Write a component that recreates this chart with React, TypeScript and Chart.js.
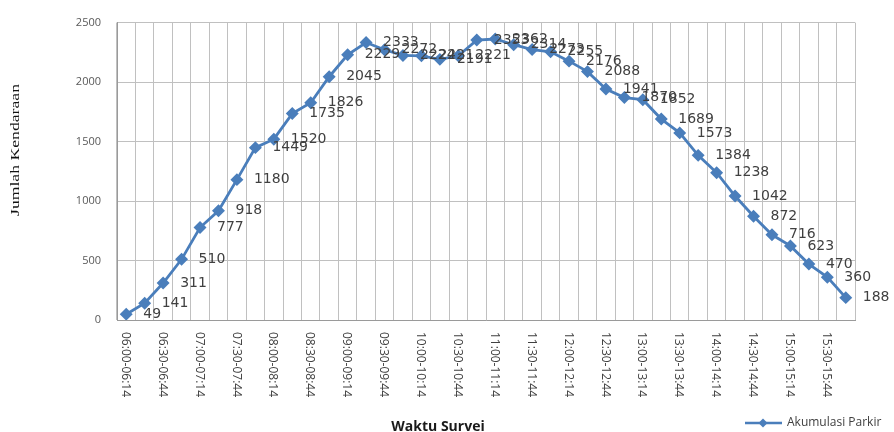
import React, { useEffect, useRef } from "react";
import { Chart, registerables } from "chart.js";

Chart.register(...registerables);

const categories: string[] = [
  "06:00-06:14", "06:15-06:29", "06:30-06:44", "06:45-06:59",
  "07:00-07:14", "07:15-07:29", "07:30-07:44", "07:45-07:59",
  "08:00-08:14", "08:15-08:29", "08:30-08:44", "08:45-08:59",
  "09:00-09:14", "09:15-09:29", "09:30-09:44", "09:45-09:59",
  "10:00-10:14", "10:15-10:29", "10:30-10:44", "10:45-10:59",
  "11:00-11:14", "11:15-11:29", "11:30-11:44", "11:45-11:59",
  "12:00-12:14", "12:15-12:29", "12:30-12:44", "12:45-12:59",
  "13:00-13:14", "13:15-13:29", "13:30-13:44", "13:45-13:59",
  "14:00-14:14", "14:15-14:29", "14:30-14:44", "14:45-14:59",
  "15:00-15:14", "15:15-15:29", "15:30-15:44", "15:45-15:59",
];

const akumulasiParkir: number[] = [
  49, 141, 311, 510, 777, 918, 1180, 1449, 1520, 1735,
  1826, 2045, 2229, 2333, 2272, 2224, 2221, 2191, 2221, 2353,
  2362, 2314, 2273, 2255, 2176, 2088, 1941, 1870, 1852, 1689,
  1573, 1384, 1238, 1042, 872, 716, 623, 470, 360, 188,
];

const yTicks: number[] = [0, 500, 1000, 1500, 2000, 2500];

const seriesName = "Akumulasi Parkir";
const xTitle = "Waktu Survei";
const yTitle = "Jumlah Kendaraan";

const LINE_COLOR = "#4A7EBB";

const overlayPlugin = {
  id: "overlay",
  afterDatasetsDraw(chart: any) {
    const ctx: CanvasRenderingContext2D = chart.ctx;
    const meta = chart.getDatasetMeta(0);
    const xScale = chart.scales.x;
    const area = chart.chartArea;

    // data labels
    ctx.save();
    ctx.font = "14px 'DejaVu Sans'";
    ctx.fillStyle = "#404040";
    ctx.textAlign = "left";
    ctx.textBaseline = "middle";
    meta.data.forEach((pt: any, i: number) => {
      ctx.fillText(String(akumulasiParkir[i]), pt.x + 17, pt.y);
    });
    ctx.restore();

    // x tick labels (rotated clockwise, every other category)
    ctx.save();
    ctx.font = "12px 'Open Sans'";
    ctx.fillStyle = "#404040";
    ctx.textAlign = "left";
    ctx.textBaseline = "middle";
    categories.forEach((c, i) => {
      if (i % 2 !== 0) return;
      const x = xScale.getPixelForValue(i);
      ctx.save();
      ctx.translate(x - 1, area.bottom + 12);
      ctx.rotate(Math.PI / 2);
      ctx.fillText(c, 0, 0);
      ctx.restore();
    });
    ctx.restore();

    // x title
    ctx.save();
    ctx.font = "bold 14px 'Open Sans'";
    ctx.fillStyle = "#1a1a1a";
    ctx.textAlign = "center";
    ctx.textBaseline = "alphabetic";
    ctx.fillText(xTitle, 438, 431);
    ctx.restore();

    // y title
    ctx.save();
    ctx.font = "12px 'Liberation Serif'";
    ctx.fillStyle = "#111111";
    ctx.textAlign = "center";
    ctx.textBaseline = "middle";
    const w = ctx.measureText(yTitle).width;
    ctx.translate(16, 150);
    ctx.rotate(-Math.PI / 2);
    ctx.scale(132 / w, 1);
    ctx.fillText(yTitle, 0, 0);
    ctx.restore();

    // legend
    ctx.save();
    const ly = 423;
    ctx.strokeStyle = LINE_COLOR;
    ctx.lineWidth = 2.5;
    ctx.beginPath();
    ctx.moveTo(745, ly);
    ctx.lineTo(782, ly);
    ctx.stroke();
    ctx.fillStyle = LINE_COLOR;
    ctx.beginPath();
    ctx.moveTo(763, ly - 4.5);
    ctx.lineTo(767.5, ly);
    ctx.lineTo(763, ly + 4.5);
    ctx.lineTo(758.5, ly);
    ctx.closePath();
    ctx.fill();
    ctx.font = "12px 'Open Sans'";
    ctx.fillStyle = "#404040";
    ctx.textAlign = "left";
    ctx.textBaseline = "middle";
    ctx.fillText(seriesName, 787, ly);
    ctx.restore();
  },
};

export default function App() {
  const ref = useRef<HTMLCanvasElement | null>(null);

  useEffect(() => {
    if (!ref.current) return;
    const chart = new Chart(ref.current, {
      type: "line",
      data: {
        labels: categories,
        datasets: [
          {
            label: seriesName,
            data: akumulasiParkir,
            borderColor: LINE_COLOR,
            backgroundColor: LINE_COLOR,
            borderWidth: 2.8,
            pointStyle: "rectRot",
            pointRadius: 4.5,
            pointBackgroundColor: LINE_COLOR,
            pointBorderColor: LINE_COLOR,
            tension: 0,
          },
        ],
      },
      options: {
        animation: false,
        responsive: false,
        maintainAspectRatio: false,
        layout: { padding: { top: 15, right: 39, left: 0, bottom: 0 } },
        plugins: {
          legend: { display: false },
          tooltip: { enabled: false },
          title: { display: false },
        },
        scales: {
          x: {
            type: "category",
            offset: true,
            grid: {
              offset: true,
              color: "#c0c0c0",
              lineWidth: 1,
              drawTicks: false,
            },
            border: { color: "#9a9a9a", width: 1 },
            ticks: { display: false },
            afterFit: (scale: any) => {
              scale.height = 112;
            },
          },
          y: {
            min: 0,
            max: 2500,
            afterBuildTicks: (scale: any) => {
              scale.ticks = yTicks.map((v) => ({ value: v }));
            },
            grid: { color: "#c0c0c0", lineWidth: 1, drawTicks: false },
            border: { color: "#9a9a9a", width: 1 },
            ticks: {
              padding: 16,
              color: "#595959",
              font: { family: "'Open Sans'", size: 11 },
              callback: (v: any) => String(v),
            },
            afterFit: (scale: any) => {
              scale.width = 117;
            },
          },
        },
      },
      plugins: [overlayPlugin],
    });
    return () => chart.destroy();
  }, []);

  return (
    <div style={{ position: "absolute", left: 0, top: 0, width: 894, height: 432, background: "#fff" }}>
      <canvas ref={ref} width={894} height={432} style={{ width: 894, height: 432 }} />
    </div>
  );
}
